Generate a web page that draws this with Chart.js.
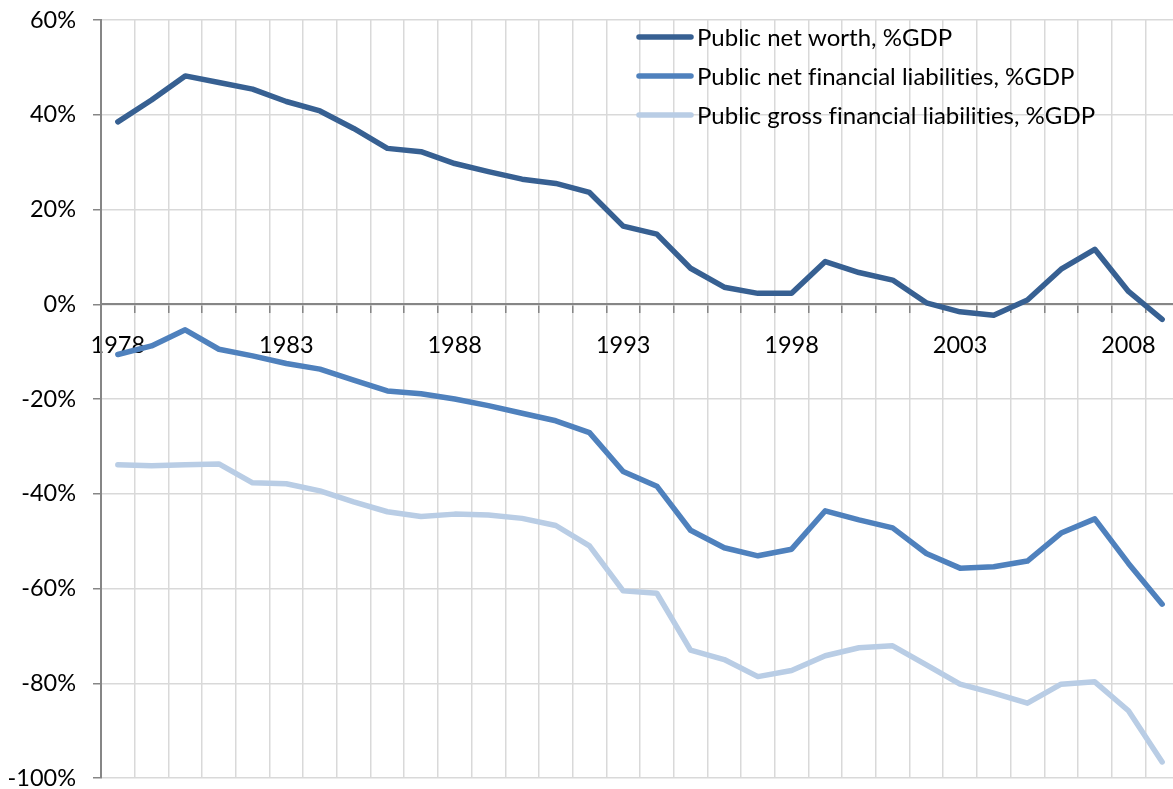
<!DOCTYPE html>
<html>
<head>
<meta charset="utf-8">
<script src="https://cdn.jsdelivr.net/npm/chart.js@4.4.1/dist/chart.umd.min.js"></script>
<style>
  html, body { margin: 0; padding: 0; background: #ffffff; overflow: hidden; }
  #wrap { position: absolute; left: 0; top: 0; width: 1180px; height: 789px; }
</style>
</head>
<body>
<div id="wrap"><canvas id="chart" width="1180" height="789"></canvas></div>
<script>
const years = ["1978", "1979", "1980", "1981", "1982", "1983", "1984", "1985", "1986", "1987",
  "1988", "1989", "1990", "1991", "1992", "1993", "1994", "1995", "1996", "1997",
  "1998", "1999", "2000", "2001", "2002", "2003", "2004", "2005", "2006", "2007",
  "2008", "2009"];

// % of GDP
const netWorth = [38.5, 43.1, 48.2, 46.8, 45.4, 42.8, 40.8, 37.1, 32.9, 32.2,
  29.7, 28.0, 26.4, 25.5, 23.6, 16.5, 14.8, 7.6, 3.6, 2.3,
  2.3, 9.0, 6.7, 5.1, 0.3, -1.6, -2.3, 0.9, 7.4, 11.6,
  2.7, -3.2];
const netLiabilities = [-10.6, -8.8, -5.4, -9.5, -10.9, -12.5, -13.7, -16.0, -18.3, -18.9,
  -20.0, -21.4, -23.0, -24.6, -27.1, -35.3, -38.4, -47.7, -51.4, -53.1,
  -51.7, -43.6, -45.5, -47.2, -52.6, -55.7, -55.4, -54.2, -48.3, -45.3,
  -54.7, -63.3];
const grossLiabilities = [-33.9, -34.1, -33.9, -33.7, -37.7, -37.9, -39.4, -41.7, -43.8, -44.8,
  -44.3, -44.5, -45.2, -46.7, -51.0, -60.5, -61.0, -73.0, -75.0, -78.6,
  -77.3, -74.2, -72.5, -72.1, -76.1, -80.2, -82.1, -84.2, -80.2, -79.7,
  -85.8, -96.6];

const seriesNames = ["Public net worth, %GDP", "Public net financial liabilities, %GDP", "Public gross financial liabilities, %GDP"];
const seriesColors = ["#376092", "#4F81BD", "#B9CDE5"];

const FONT = "Lato, 'Open Sans', sans-serif";

function lineSet(i, data) {
  return {
    label: seriesNames[i],
    data: data,
    borderColor: seriesColors[i],
    backgroundColor: seriesColors[i],
    borderWidth: 5.5,
    pointRadius: 0,
    tension: 0,
    borderJoinStyle: "round",
    borderCapStyle: "round",
    order: 3 - i,
  };
}

// legend drawn inside the plot, top right, like the original
const legendInside = {
  id: "legendInside",
  afterDraw(chart) {
    const ctx = chart.ctx;
    ctx.save();
    chart.data.datasets.forEach((ds, i) => {
      const y = 37 + i * 39;
      ctx.strokeStyle = ds.borderColor;
      ctx.lineWidth = 5.5;
      ctx.lineCap = "round";
      ctx.beginPath();
      ctx.moveTo(639, y);
      ctx.lineTo(691, y);
      ctx.stroke();
      ctx.fillStyle = "#000000";
      ctx.font = "24px " + FONT;
      ctx.letterSpacing = "0.01px"; // no "ti" ligature
      ctx.textBaseline = "middle";
      ctx.textAlign = "left";
      ctx.fillText(ds.label, 697, y + 1);
    });
    ctx.restore();
  },
};

new Chart(document.getElementById("chart"), {
  type: "line",
  data: {
    labels: years,
    datasets: [lineSet(0, netWorth), lineSet(1, netLiabilities), lineSet(2, grossLiabilities)],
  },
  options: {
    responsive: false,
    animation: false,
    layout: { padding: { top: 20, bottom: 11, left: 0, right: 1 } },
    plugins: { legend: { display: false }, tooltip: { enabled: false } },
    scales: {
      x: {
        type: "category",
        position: { y: 0 },
        offset: true,
        afterFit: (s) => { s.paddingLeft = 0; s.paddingRight = 0; },
        grid: { offset: true, color: "#D9D9D9", tickColor: "#868686", tickLength: 8, lineWidth: 1.5 },
        border: { color: "#868686", width: 2 },
        ticks: {
          autoSkip: false,
          maxRotation: 0,
          minRotation: 0,
          padding: 19,
          color: "#000000",
          font: { family: FONT, size: 23.5 },
          callback: function (v, i) { return i % 5 === 0 ? years[i] : ""; },
        },
      },
      y: {
        min: -100,
        max: 60,
        afterFit: (s) => { s.width = 101; s.paddingTop = 0; s.paddingBottom = 0; },
        grid: { color: "#D9D9D9", tickColor: "#868686", tickLength: 8, lineWidth: 1.5 },
        border: { color: "#868686", width: 2 },
        ticks: {
          stepSize: 20,
          padding: 17,
          color: "#000000",
          font: { family: FONT, size: 23.5 },
          callback: (v) => v + "%",
        },
      },
    },
  },
  plugins: [legendInside],
});
</script>
</body>
</html>
